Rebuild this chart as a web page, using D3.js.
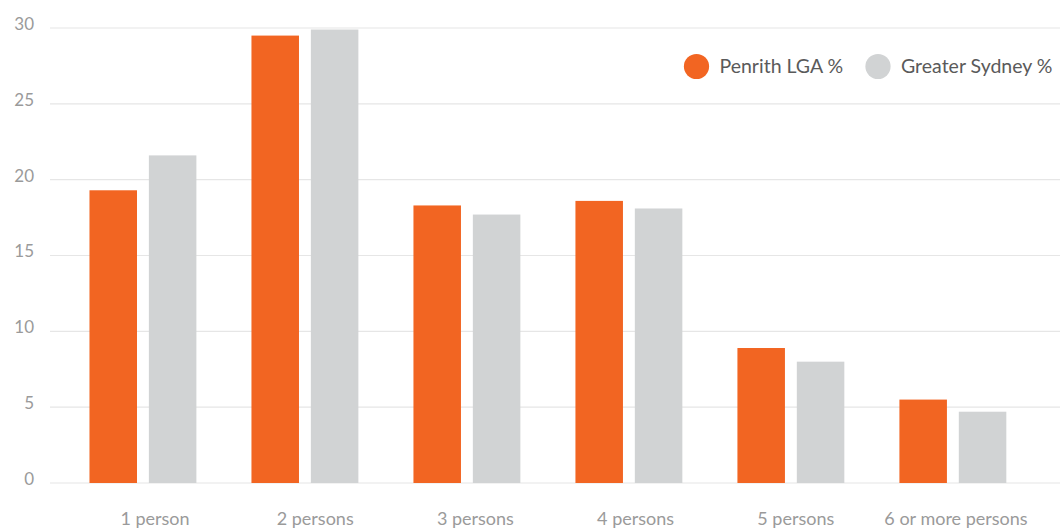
<!DOCTYPE html>
<html>
<head>
<meta charset="utf-8">
<script src="https://cdn.jsdelivr.net/npm/d3@7"></script>
<style>
  html, body { margin: 0; padding: 0; background: #fff; }
  svg { display: block; font-family: Lato, "Open Sans", sans-serif; }
</style>
</head>
<body>
<svg id="chart" width="1060" height="529"></svg>
<script>
// Household size: share of households (%)
const categories = ["1 person", "2 persons", "3 persons", "4 persons", "5 persons", "6 or more persons"];
const seriesNames = ["Penrith LGA %", "Greater Sydney %"];
const penrith = [19.3, 29.5, 18.3, 18.6, 8.9, 5.5];
const sydney = [21.6, 29.9, 17.7, 18.1, 8.0, 4.7];
const yTicks = [0, 5, 10, 15, 20, 25, 30];
const colors = ["#F26522", "#D1D3D4"];

const svg = d3.select("#chart");
const W = 1060;

const y = d3.scaleLinear().domain([0, 30]).range([483, 28]);

const x0 = d3.scaleBand()
  .domain(categories)
  .range([54, 1041.8])
  .paddingInner(0.34)
  .paddingOuter(0.219);

const x1 = d3.scaleBand()
  .domain(seriesNames)
  .range([0, x0.bandwidth()])
  .paddingInner(0.2);

// category labels sit on their own evenly spaced band
const xLabel = d3.scaleBand()
  .domain(categories)
  .range([74.9, 1036.1]);

// horizontal gridlines
svg.append("g")
  .selectAll("line")
  .data(yTicks)
  .join("line")
  .attr("x1", 50).attr("x2", W)
  .attr("y1", d => y(d)).attr("y2", d => y(d))
  .attr("stroke", "#e6e6e6")
  .attr("stroke-width", 1.2);

// y axis labels
const yAxis = svg.append("g")
  .attr("transform", "translate(34,-4)")
  .call(d3.axisLeft(y).tickValues(yTicks).tickSize(0).tickPadding(0));
yAxis.select(".domain").remove();
yAxis.selectAll("text")
  .attr("fill", "#9a9a9a")
  .style("font-size", "17px")
  .style("font-family", "Lato, sans-serif");

// bars
const rows = categories.map((c, i) => ({ cat: c, vals: [penrith[i], sydney[i]] }));
const groups = svg.append("g")
  .selectAll("g")
  .data(rows)
  .join("g")
  .attr("transform", d => `translate(${x0(d.cat)},0)`);

groups.selectAll("rect")
  .data(d => d.vals.map((v, k) => ({ name: seriesNames[k], v, k })))
  .join("rect")
  .attr("x", d => x1(d.name))
  .attr("width", x1.bandwidth())
  .attr("y", d => y(d.v))
  .attr("height", d => y(0) - y(d.v))
  .attr("fill", d => colors[d.k]);

// x axis labels
const xAxis = svg.append("g")
  .attr("transform", "translate(0,512)")
  .call(d3.axisBottom(xLabel).tickSize(0).tickPadding(0));
xAxis.select(".domain").remove();
xAxis.selectAll("text")
  .attr("fill", "#9a9a9a")
  .style("font-size", "18px")
  .style("font-family", "Lato, sans-serif");

// legend
const legend = svg.append("g");
const legendX = [696.5, 878];
seriesNames.forEach((name, k) => {
  legend.append("circle")
    .attr("cx", legendX[k]).attr("cy", 66.5).attr("r", 12.6)
    .attr("fill", colors[k]);
  legend.append("text")
    .attr("x", legendX[k] + 23).attr("y", 66.5)
    .attr("dy", "0.35em")
    .attr("fill", "#5a5a5a")
    .style("font-size", "19.5px")
    .text(name);
});
</script>
</body>
</html>
